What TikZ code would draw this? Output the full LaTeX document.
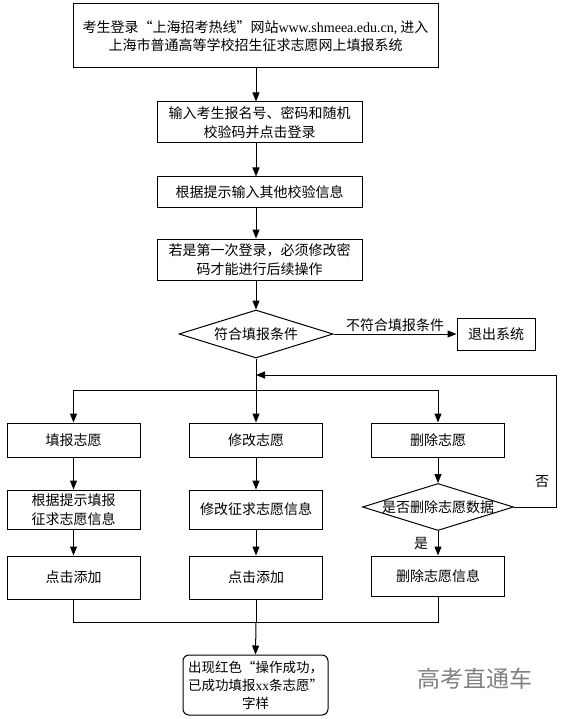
\documentclass[tikz,border=0pt]{standalone}
\usepackage{fontspec}
\setmainfont{Noto Sans CJK SC}
\newfontfamily\lat{Liberation Serif}
\newfontfamily\fw[RawFeature=+fwid]{Noto Sans CJK SC}
\newcommand{\myLQ}{{\fw “}}
\newcommand{\myRQ}{{\fw ”}}
\usetikzlibrary{arrows.meta,shapes.geometric}
\tikzset{
  bx/.style 2 args={draw, line width=1pt, minimum width=#1, minimum height=#2, inner sep=1pt, align=center, font=\fontsize{14}{19}\selectfont},
  dia/.style 2 args={draw, diamond, line width=1pt, minimum width=#1, minimum height=#2, inner sep=0pt},
  txt/.style={font=\fontsize{14}{19}\selectfont, inner sep=1pt},
  arr/.style={-{Triangle[length=9pt,width=7pt]}, line width=1pt},
  ln/.style={line width=1pt},
}
\begin{document}
\begin{tikzpicture}[x=1pt,y=-1pt]
\useasboundingbox (0,0) rectangle (563,719);
\coordinate (ax) at (256,0);
\node[bx={365pt}{64pt}, font=\fontsize{14}{18}\selectfont] (b1) at (255.5,36) {考生登录\myLQ 上海招考热线\myRQ 网站{\lat www.shmeea.edu.cn,} 进入\\上海市普通高等学校招生征求志愿网上填报系统};
\node[bx={205pt}{41pt}] (b2) at (259.5,122.5) {输入考生报名号、密码和随机\\校验码并点击登录};
\node[bx={205pt}{31pt}] (b3) at (259.5,192.5) {根据提示输入其他校验信息};
\node[bx={205pt}{41pt}] (b4) at (259.5,259.5) {若是第一次登录，必须修改密\\码才能进行后续操作};
\node[dia={154pt}{48pt}] (d1) at (256,334) {};
\node[txt] (d1t) at (d1) {符合填报条件};
\node[bx={78pt}{32pt}] (ex) at (496,334) {退出系统};
\node[bx={133pt}{34pt}] (a1) at (73.5,440) {填报志愿};
\node[bx={133pt}{34pt}] (c1) at (256,440) {修改志愿};
\node[bx={133pt}{34pt}] (r1) at (438,440) {删除志愿};
\node[bx={133pt}{39pt}] (a2) at (73.5,509.5) {根据提示填报\\征求志愿信息};
\node[bx={133pt}{39pt}] (c2) at (256,509.5) {修改征求志愿信息};
\node[dia={151pt}{47pt}] (d2) at (438,507) {};
\node[txt] (d2t) at (d2) {是否删除志愿数据};
\node[bx={133pt}{43pt}] (a3) at (73.5,577.5) {点击添加};
\node[bx={133pt}{43pt}] (c3) at (256,577.5) {点击添加};
\node[bx={133pt}{40pt}] (r3) at (438,576) {删除志愿信息};
\node[bx={145pt}{60pt}, rounded corners=6pt, font=\fontsize{13.5}{18}\selectfont] (fin) at (255.5,685) {出现红色\myLQ 操作成功，\\已成功填报{\lat xx}条志愿\myRQ\\字样};
\node[txt] (no) at (542,482) {否};
\node[txt] (yes) at (421,543) {是};
\node[text=black!50, font=\fontsize{23}{23}\selectfont] (wm) at (475,679) {高考直通车};
% connectors
\draw[arr] (b1.south -| ax) -- (b2.north -| ax);
\draw[arr] (b2.south -| ax) -- (b3.north -| ax);
\draw[arr] (b3.south -| ax) -- (b4.north -| ax);
\draw[arr] (b4.south -| ax) -- (d1.north);
\draw[arr] (d1.east) -- node[txt, above=1pt] {不符合填报条件} (ex.west);
\coordinate (br) at (256,390);
\draw[ln] (d1.south) -- (br);
\draw[arr] (br) -- (c1.north);
\draw[arr] (br) -| (a1.north);
\draw[arr] (br) -| (r1.north);
\coordinate (fb) at (556,375);
\draw[arr] (d2.east) -| (fb) -- (fb -| ax);
\draw[arr] (a1.south) -- (a2.north);
\draw[arr] (c1.south) -- (c2.north);
\draw[arr] (r1.south) -- (d2.north);
\draw[arr] (a2.south) -- (a3.north);
\draw[arr] (c2.south) -- (c3.north);
\draw[arr] (d2.south) -- (r3.north);
\coordinate (mg) at (256,622.5);
\draw[ln] (a3.south) |- (mg) -| (r3.south);
\draw[ln] (c3.south) -- (mg);
\draw[arr] (mg) -- (fin.north);
\end{tikzpicture}
\end{document}
